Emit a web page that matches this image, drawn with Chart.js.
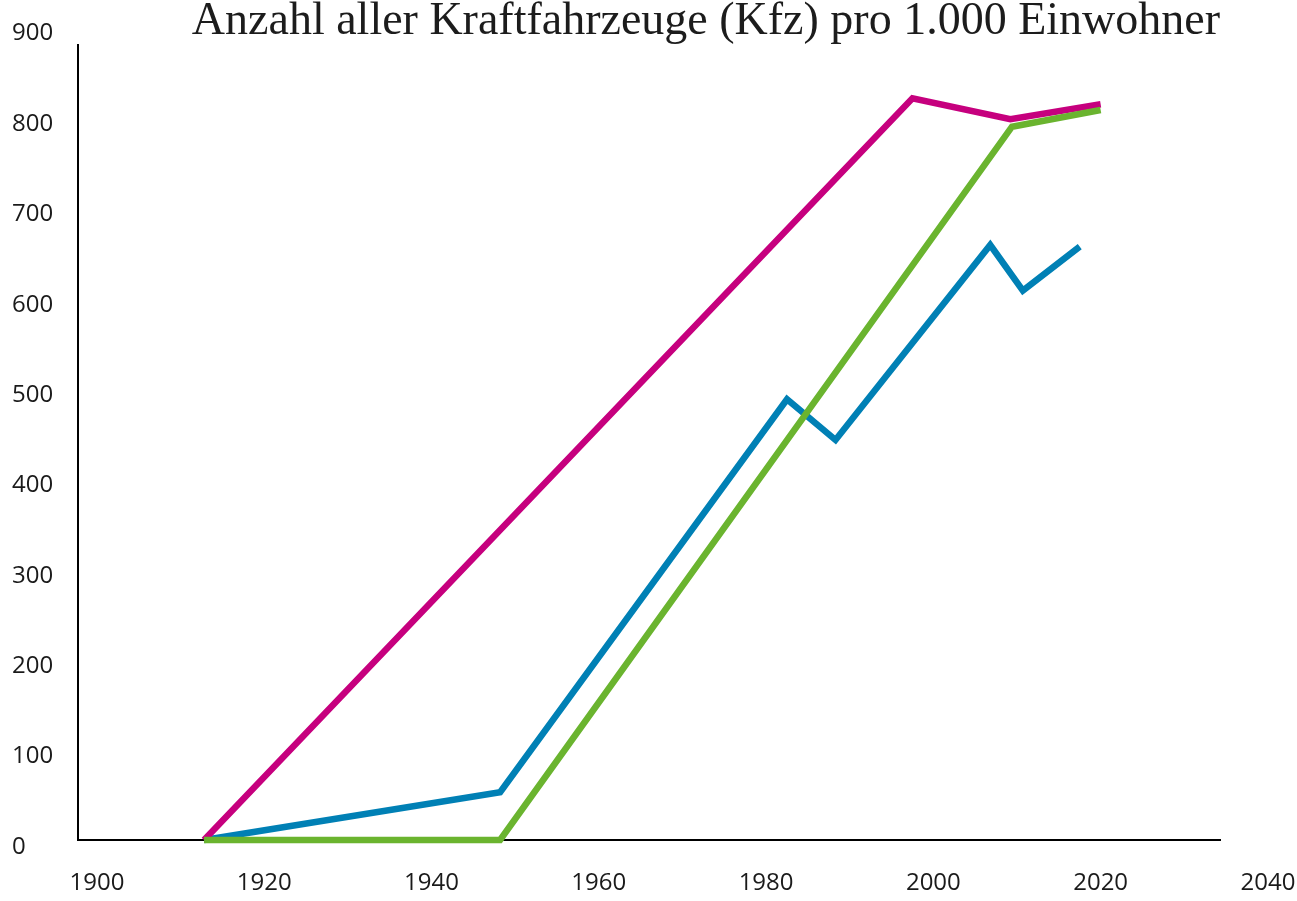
<!DOCTYPE html>
<html>
<head>
<meta charset="utf-8">
<script src="https://cdn.jsdelivr.net/npm/chart.js@4.4.1/dist/chart.umd.min.js"></script>
<style>
  html, body { margin: 0; padding: 0; background: #ffffff; }
  #wrap { width: 1297px; height: 901px; }
</style>
</head>
<body>
<div id="wrap"><canvas id="c" width="1297" height="901"></canvas></div>
<script>
// ---- data ----
const titleText = 'Anzahl aller Kraftfahrzeuge (Kfz) pro 1.000 Einwohner';
const xTickYears = [1900, 1920, 1940, 1960, 1980, 2000, 2020, 2040];
const yTickValues = [0, 100, 200, 300, 400, 500, 600, 700, 800, 900];

const magentaYears  = [1912.8, 1997.5, 2009.2, 2020.0];
const magentaValues = [0, 820.6, 797.4, 814.0];

const greenYears  = [1912.8, 1948.2, 2009.4, 2020.0];
const greenValues = [0, 0, 789.2, 807.7];

const blueYears  = [1912.8, 1948.2, 1982.5, 1988.3, 2006.8, 2010.7, 2017.5];
const blueValues = [0, 52.8, 487.6, 442.6, 658.3, 607.8, 656.5];

// ---- helpers ----
const toPoints = (xs, ys) => xs.map((x, i) => ({ x: x, y: ys[i] }));
const tickFont = { family: "'Open Sans', 'Noto Sans', sans-serif", size: 24 };

function lineSet(label, xs, ys, color) {
  return {
    label: label,
    data: toPoints(xs, ys),
    borderColor: color,
    backgroundColor: color,
    borderWidth: 6.5,
    pointRadius: 0,
    pointHoverRadius: 0,
    tension: 0,
    fill: false,
    borderCapStyle: 'butt',
    borderJoinStyle: 'miter',
    clip: false
  };
}

new Chart(document.getElementById('c'), {
  type: 'line',
  data: {
    datasets: [
      lineSet('green', greenYears, greenValues, '#6AB42F'),
      lineSet('magenta', magentaYears, magentaValues, '#C6007E'),
      lineSet('blue', blueYears, blueValues, '#0080B5')
    ]
  },
  options: {
    responsive: false,
    animation: false,
    devicePixelRatio: 1,
    events: [],
    layout: { padding: { left: 12, right: 77, top: 0, bottom: 0 } },
    plugins: {
      legend: { display: false },
      tooltip: { enabled: false },
      title: {
        display: true,
        text: titleText,
        align: 'end',
        color: '#1c1c1c',
        font: { family: "'Liberation Serif', serif", size: 46, weight: 'normal', lineHeight: 0.95 },
        padding: { top: 0, bottom: 1.3 }
      }
    },
    scales: {
      x: {
        type: 'linear',
        position: 'bottom',
        min: 1897.73,
        max: 2034.27,
        grid: { display: false, drawTicks: false },
        border: { display: true, color: '#000000', width: 2 },
        ticks: {
          autoSkip: false,
          maxRotation: 0,
          padding: 29,
          color: '#1a1a1a',
          font: tickFont,
          callback: v => String(v)
        },
        afterBuildTicks: s => { s.ticks = xTickYears.map(v => ({ value: v })); },
        afterFit: s => { s.height = 61; s.paddingLeft = 0; s.paddingRight = 0; }
      },
      y: {
        type: 'linear',
        position: 'left',
        min: 0,
        max: 879.6,
        grid: { display: false, drawTicks: false },
        border: { display: true, color: '#000000', width: 2 },
        ticks: {
          autoSkip: false,
          crossAlign: 'far',
          padding: 0,
          labelOffset: 7,
          color: '#1a1a1a',
          font: tickFont,
          callback: v => String(v)
        },
        afterBuildTicks: s => { s.ticks = yTickValues.map(v => ({ value: v })); },
        afterFit: s => { s.width = 66; s.paddingTop = 0; s.paddingBottom = 0; }
      }
    }
  }
});
</script>
</body>
</html>
